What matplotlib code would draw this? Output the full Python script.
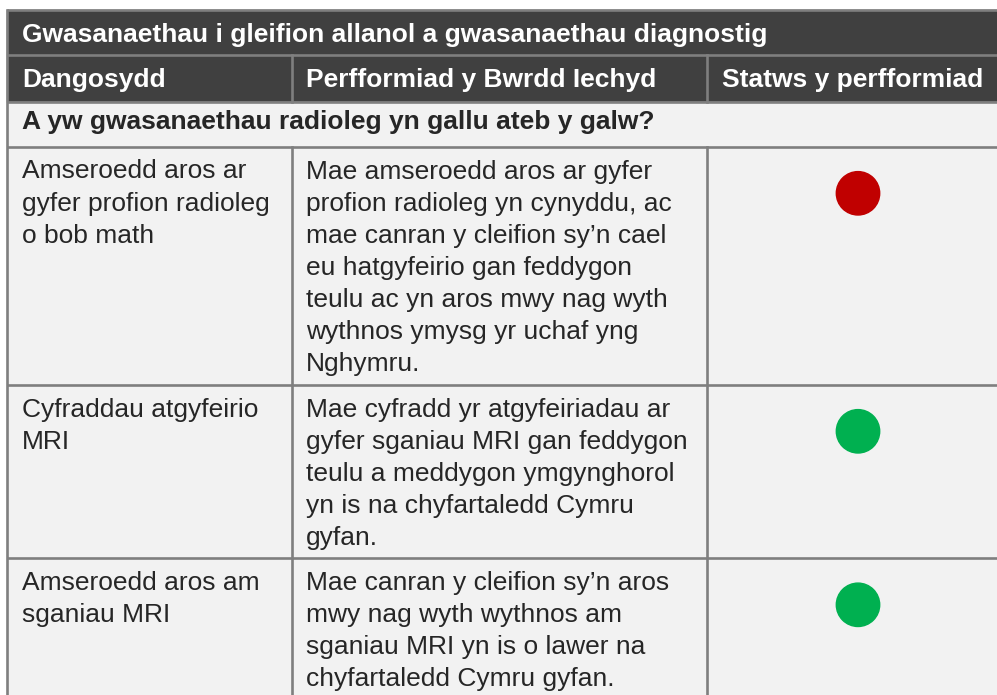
import matplotlib.pyplot as plt
from matplotlib.patches import Rectangle, Circle

# Table content
title = "Gwasanaethau i gleifion allanol a gwasanaethau diagnostig"
headers = ["Dangosydd", "Perfformiad y Bwrdd Iechyd", "Statws y perfformiad"]
section = "A yw gwasanaethau radioleg yn gallu ateb y galw?"

indicators = [
    "Amseroedd aros ar\ngyfer profion radioleg\no bob math",
    "Cyfraddau atgyfeirio\nMRI",
    "Amseroedd aros am\nsganiau MRI",
]
performance = [
    "Mae amseroedd aros ar gyfer\nprofion radioleg yn cynyddu, ac\nmae canran y cleifion sy’n cael\n"
    "eu hatgyfeirio gan feddygon\nteulu ac yn aros mwy nag wyth\nwythnos ymysg yr uchaf yng\nNghymru.",
    "Mae cyfradd yr atgyfeiriadau ar\ngyfer sganiau MRI gan feddygon\nteulu a meddygon ymgynghorol\n"
    "yn is na chyfartaledd Cymru\ngyfan.",
    "Mae canran y cleifion sy’n aros\nmwy nag wyth wythnos am\nsganiau MRI yn is o lawer na\n"
    "chyfartaledd Cymru gyfan.",
]
status = ["red", "green", "green"]

# Colours
status_colors = {"red": "#c00000", "green": "#00b050"}
dark = "#404040"
light = "#f2f2f2"
grid = "#7f7f7f"
text_col = "#262626"

# Layout (pixels)
W, H = 997, 695
left, right = 7, 999
col_x = [left, 291.5, 707, right]
text_x = [22, 306, 722]
y_top, y_head, y_sec, y_body = 10, 55, 101.5, 146.5
row_bottoms = [384.5, 558, 720]
line_h = 32.1
first_base = 32
font_size = 19

plt.rcParams['font.family'] = ['Liberation Sans', 'DejaVu Sans']

fig = plt.figure(figsize=(W / 100, H / 100), dpi=100)
ax = fig.add_axes([0, 0, 1, 1])
ax.set_xlim(0, W)
ax.set_ylim(H, 0)
ax.axis('off')

# backgrounds
ax.add_patch(Rectangle((left, y_top), right - left, y_sec - y_top, color=dark, zorder=1))
ax.add_patch(Rectangle((left, y_sec), right - left, H + 50 - y_sec, color=light, zorder=1))

# horizontal grid lines
for y in [y_top, y_head, y_sec, y_body] + row_bottoms:
    ax.plot([left, right], [y, y], color=grid, lw=1.9, zorder=3, solid_capstyle='butt')
# outer vertical borders
for x in [left, right]:
    ax.plot([x, x], [y_top, H + 50], color=grid, lw=1.9, zorder=3)
# inner column lines: header row and body rows
for x in col_x[1:3]:
    ax.plot([x, x], [y_head, y_sec], color=grid, lw=1.9, zorder=3)
    ax.plot([x, x], [y_body, H + 50], color=grid, lw=1.9, zorder=3)

# title, headers, section
ax.text(text_x[0], 41.7, title, color='white', fontsize=font_size, fontweight='bold',
        va='baseline', ha='left', zorder=4)
for hx, h in zip(text_x, headers):
    ax.text(hx, 87.3, h, color='white', fontsize=font_size, fontweight='bold',
            va='baseline', ha='left', zorder=4)
ax.text(text_x[0], 129.3, section, color=text_col, fontsize=font_size, fontweight='bold',
        va='baseline', ha='left', zorder=4)

# body rows
row_tops = [y_body] + row_bottoms[:-1]
for top, ind, perf, st in zip(row_tops, indicators, performance, status):
    for col, txt in [(0, ind), (1, perf)]:
        for k, line in enumerate(txt.split("\n")):
            ax.text(text_x[col], top + first_base + k * line_h, line, color=text_col,
                    fontsize=font_size, va='baseline', ha='left', zorder=4)
    ax.add_patch(Circle((858, top + 46.8), 21.7, color=status_colors[st], zorder=4))

fig.savefig("out.png", dpi=100)
